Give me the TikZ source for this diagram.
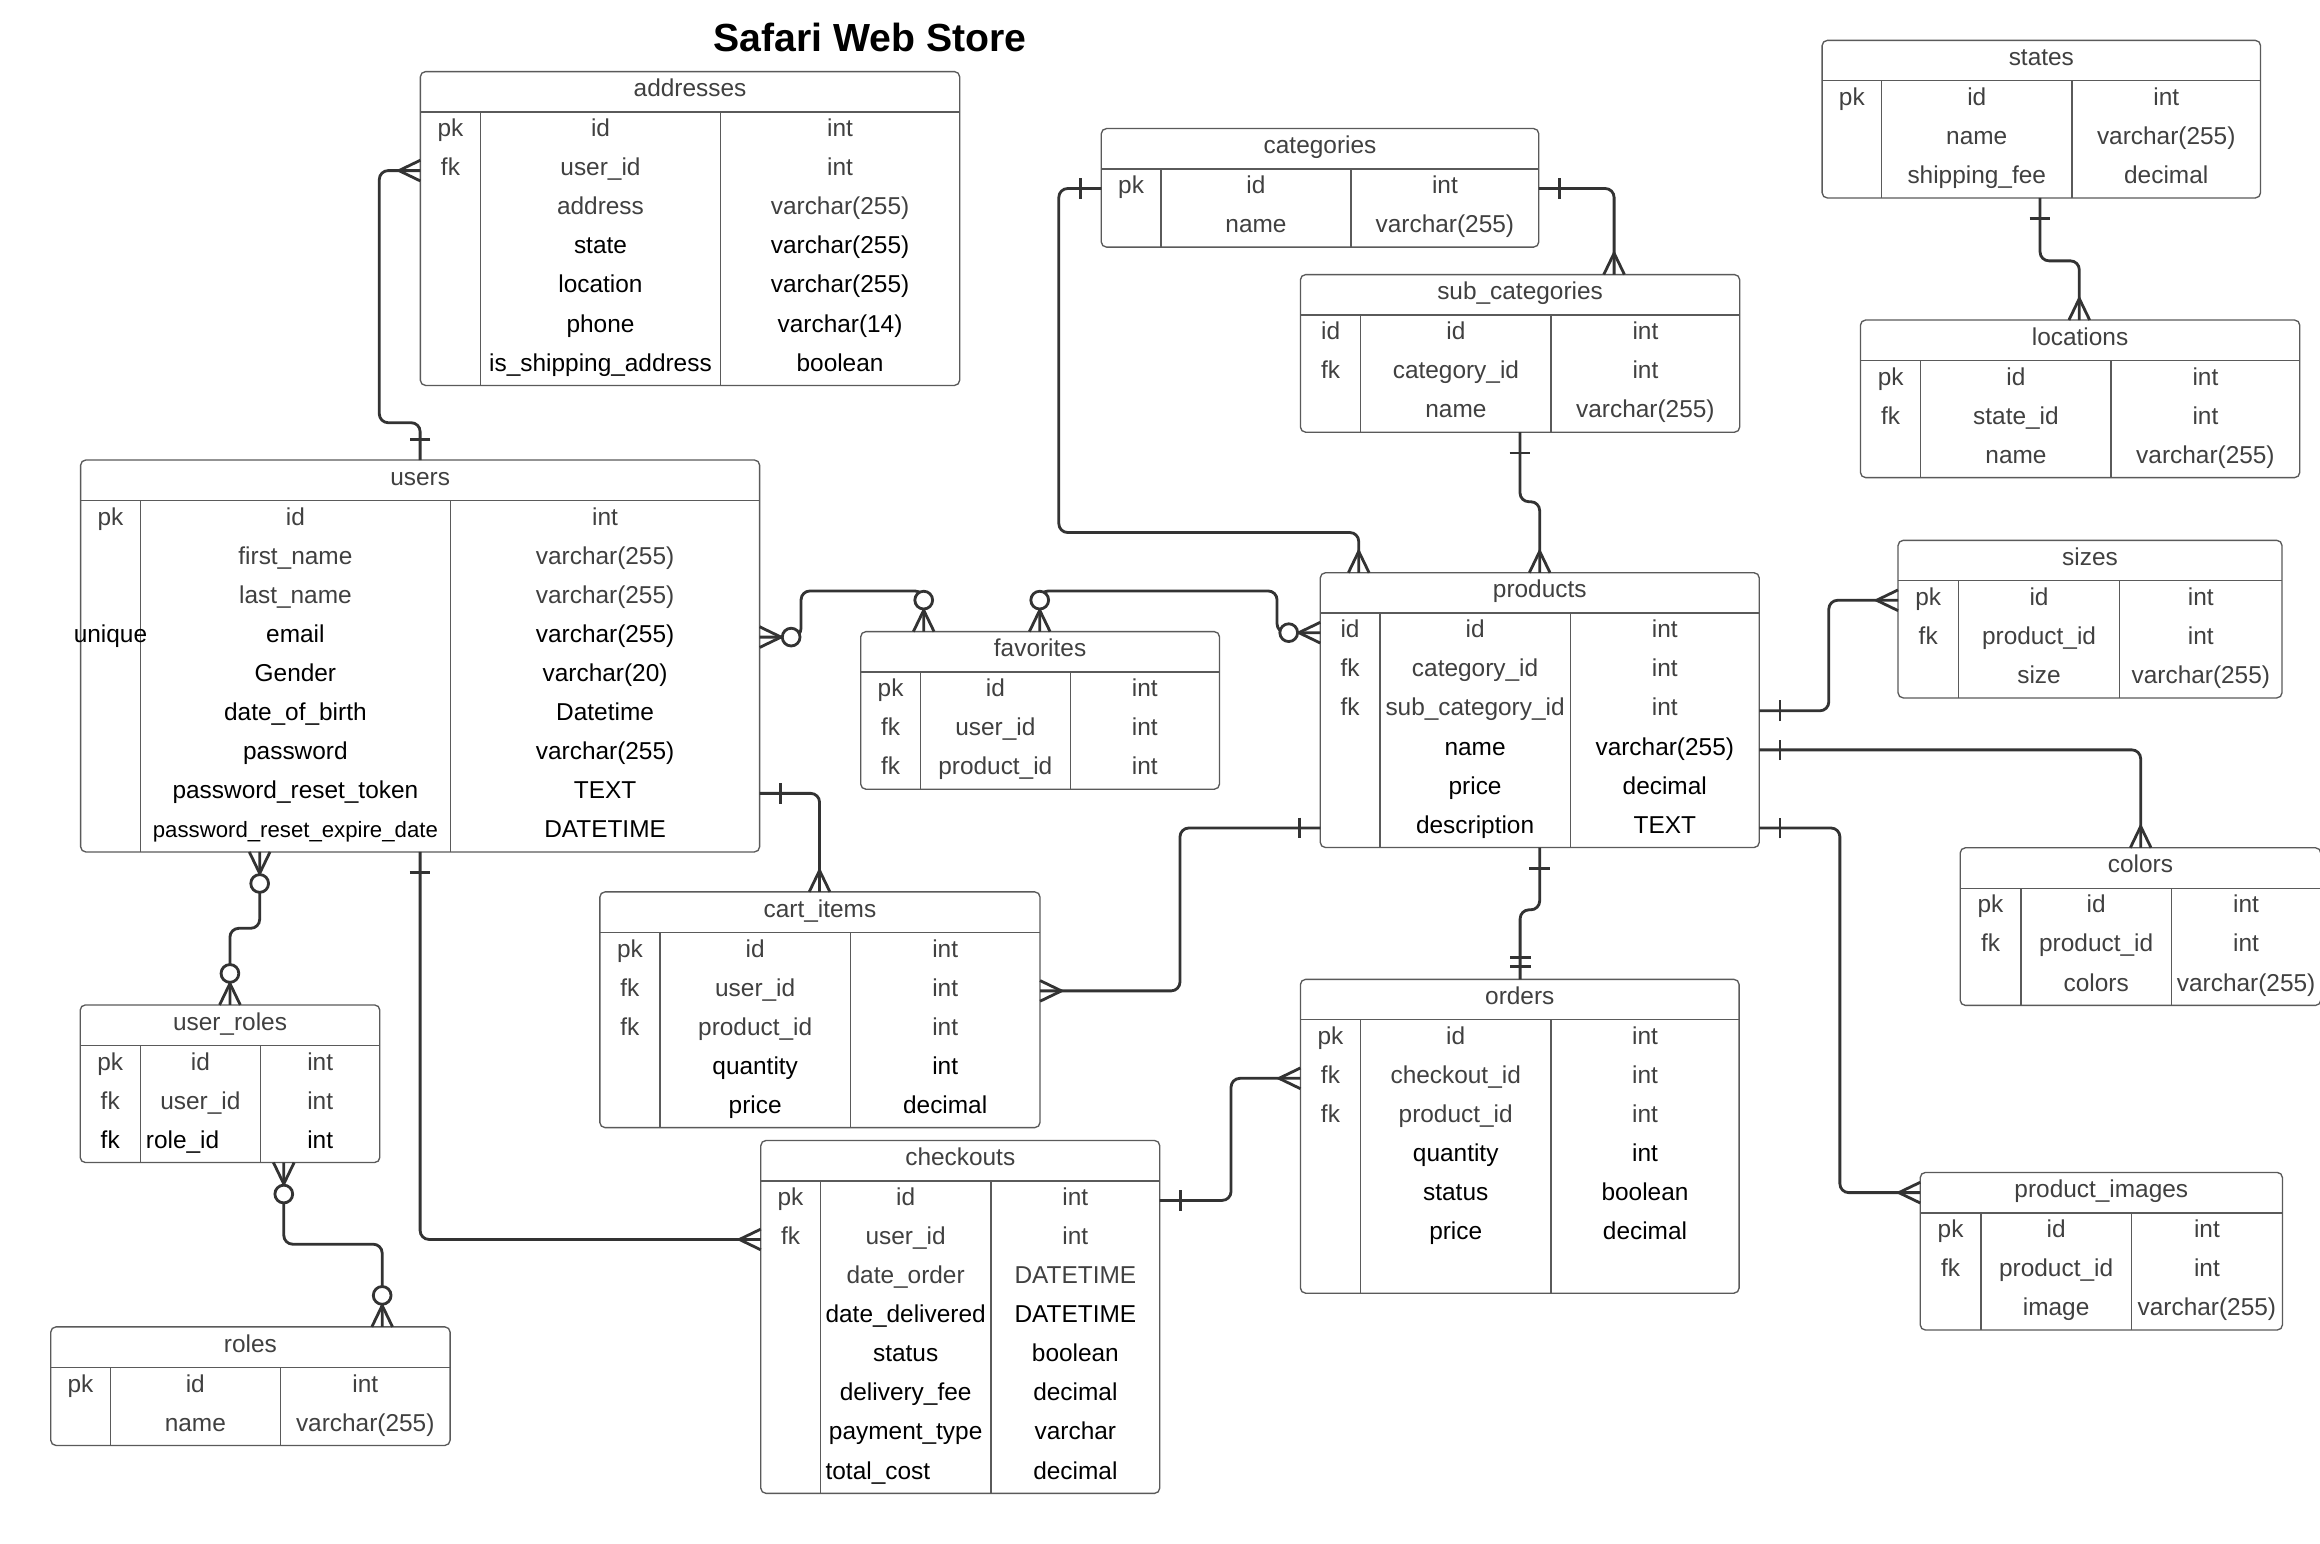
\documentclass[tikz,border=0pt]{standalone}
\usepackage{fontspec}
\setmainfont{Liberation Sans}
\usetikzlibrary{calc}
\definecolor{tgrey}{HTML}{404040}
\definecolor{lgrey}{HTML}{5A5A5A}
\definecolor{cgrey}{HTML}{333333}
\tikzset{
  tframe/.style={draw=lgrey, line width=0.9pt, rounded corners=3.5pt, fill=white, inner sep=0pt, outer sep=0pt},
  tline/.style={draw=lgrey, line width=0.9pt},
  cell/.style={inner sep=0pt, font=\fontsize{16.5}{19}\selectfont, anchor=base},
  tg/.style={text=tgrey},
  tb/.style={text=black},
  conn/.style={draw=cgrey, line width=1.9pt, rounded corners=6pt},
  mk/.style={draw=cgrey, line width=1.9pt},
  many/.pic={\draw[mk] (0,7) -- (14.5,0) -- (0,-7);},
  zmany/.pic={\draw[mk] (0,7) -- (14.5,0) -- (0,-7); \draw[mk, fill=white] (21.3,0) circle[radius=6pt];},
  one/.pic={\draw[mk] (14,7) -- (14,-7);},
  onlyone/.pic={\draw[mk] (8.5,7) -- (8.5,-7) (14.5,7) -- (14.5,-7);}
}
% #1 name, #2 x1, #3 top, #4 x2, #5 d1, #6 d2, #7 slots, #8 title, #9 rows
\newcommand{\ertable}[9]{%
  \pgfmathsetmacro\tHB{#3+27.3}%
  \pgfmathsetmacro\tBT{\tHB+#7*26.4}%
  \pgfmathsetmacro\tW{#4-#2}%
  \pgfmathsetmacro\tH{\tBT-#3}%
  \node[tframe, minimum width=\tW pt, minimum height=\tH pt, anchor=north west] (#1) at (#2,#3) {};
  \draw[tline] (#2,\tHB) -- (#4,\tHB) (#5,\tHB) -- (#5,\tBT) (#6,\tHB) -- (#6,\tBT);
  \node[cell,tg] (#1-title) at ({(#2+#4)/2},{#3+17}) {#8};
  \coordinate (#1-h) at (#2,{#3+13.65});
  \foreach \i in {1,...,#7}{\coordinate (#1-r\i) at (#2,{\tHB+(\i-0.5)*26.4});}
  \foreach \ka/\fa/\ta/\ca [count=\i] in {#9}{%
    \pgfmathsetmacro\yb{\tHB+(\i-0.5)*26.4+3.5}
    \node[cell,\ca] (#1-k\i) at ({(#2+#5)/2},\yb) {\ka};
    \node[cell,\ca] (#1-f\i) at ({(#5+#6)/2},\yb) {\fa};
    \node[cell,\ca] (#1-t\i) at ({(#6+#4)/2},\yb) {\ta};
  }
}
\begin{document}
\begin{tikzpicture}[x=1pt,y=-1pt]
\useasboundingbox (0,0) rectangle (1568,1043.5);
\fill[white] (0,0) rectangle (1568,1043.5);
\node[font=\bfseries\fontsize{26.5}{30}\selectfont, anchor=base, inner sep=0pt] (title) at (587.9,34.9) {Safari Web Store};

\ertable{addresses}{284.1}{48.4}{648.6}{324.8}{486.9}{7}{addresses}{pk/id/int/tg, fk/user\_id/int/tg, {}/address/varchar(255)/tg, {}/state/varchar(255)/tb, {}/location/varchar(255)/tb, {}/phone/varchar(14)/tb, {}/is\_shipping\_address/boolean/tb}
\ertable{users}{54.5}{310.9}{513.4}{94.8}{304.5}{9}{users}{pk/id/int/tg, {}/first\_name/varchar(255)/tg, {}/last\_name/varchar(255)/tg, unique/email/varchar(255)/tb, {}/Gender/varchar(20)/tb, {}/date\_of\_birth/Datetime/tb, {}/password/varchar(255)/tb, {}/password\_reset\_token/TEXT/tb, {}/{\fontsize{15}{18}\selectfont password\_reset\_expire\_date}/DATETIME/tb}
\ertable{ur}{54.2}{679.2}{256.7}{94.8}{176.1}{3}{user\_roles}{pk/id/int/tg, fk/user\_id/int/tg, fk/{}/int/tb}
\node[cell,tb,anchor=base west] (ur-role) at (98.4,776) {role\_id};
\ertable{roles}{34.3}{896.8}{304.2}{74.5}{189.5}{2}{roles}{pk/id/int/tg, {}/name/varchar(255)/tg}
\ertable{fav}{581.7}{426.9}{824.2}{622.1}{723.3}{3}{favorites}{pk/id/int/tg, fk/user\_id/int/tg, fk/product\_id/int/tg}
\ertable{cart}{405.4}{602.8}{702.9}{446.1}{574.7}{5}{cart\_items}{pk/id/int/tg, fk/user\_id/int/tg, fk/product\_id/int/tg, {}/quantity/int/tb, {}/price/decimal/tb}
\ertable{chk}{514.2}{770.8}{783.8}{554.4}{669.8}{8}{checkouts}{pk/id/int/tg, fk/user\_id/int/tg, {}/date\_order/DATETIME/tg, {}/date\_delivered/DATETIME/tb, {}/status/boolean/tb, {}/delivery\_fee/decimal/tb, {}/payment\_type/varchar/tb, {}/{}/decimal/tb}
\node[cell,tb,anchor=base west] (chk-total) at (557.8,999.6) {total\_cost};
\ertable{cat}{744.3}{86.9}{1040.0}{784.6}{913.1}{2}{categories}{pk/id/int/tg, {}/name/varchar(255)/tg}
\ertable{sub}{878.9}{185.6}{1175.8}{919.7}{1048.3}{3}{sub\_categories}{id/id/int/tg, fk/category\_id/int/tg, {}/name/varchar(255)/tg}
\ertable{prod}{892.3}{387.1}{1189.0}{932.6}{1061.3}{6}{products}{id/id/int/tg, fk/category\_id/int/tg, fk/sub\_category\_id/int/tg, {}/name/varchar(255)/tb, {}/price/decimal/tb, {}/description/TEXT/tb}
\ertable{ord}{878.9}{661.9}{1175.4}{919.5}{1048.2}{7}{orders}{pk/id/int/tg, fk/checkout\_id/int/tg, fk/product\_id/int/tg, {}/quantity/int/tb, {}/status/boolean/tb, {}/price/decimal/tb}
\ertable{states}{1231.5}{27.3}{1527.8}{1271.7}{1400.3}{3}{states}{pk/id/int/tg, {}/name/varchar(255)/tg, {}/shipping\_fee/decimal/tg}
\ertable{loc}{1257.4}{216.3}{1554.3}{1298.2}{1426.8}{3}{locations}{pk/id/int/tg, fk/state\_id/int/tg, {}/name/varchar(255)/tg}
\ertable{sizes}{1282.8}{365.2}{1542.3}{1323.6}{1432.6}{3}{sizes}{pk/id/int/tg, fk/product\_id/int/tg, {}/size/varchar(255)/tg}
\ertable{colors}{1324.8}{573.0}{1568.5}{1365.8}{1467.6}{3}{colors}{pk/id/int/tg, fk/product\_id/int/tg, {}/colors/varchar(255)/tg}
\ertable{pimg}{1297.8}{792.4}{1542.6}{1338.8}{1440.5}{3}{product\_images}{pk/id/int/tg, fk/product\_id/int/tg, {}/image/varchar(255)/tg}

% connector end points
\coordinate (c1a) at (users.north);
\coordinate (c1b) at (addresses.west |- addresses-r2);
\coordinate (c2a) at (users.east |- users-r4);
\coordinate (c2b) at ($(fav.north west)+(42.6,0)$);
\coordinate (c3a) at ($(fav.north west)+(121,0)$);
\coordinate (c3b) at (prod.west |- prod-r1);
\coordinate (c4a) at (users.east |- users-r8);
\coordinate (c4b) at ($(cart.north west)+(148.5,0)$);
\coordinate (c5a) at ($(users.south west)+(121,0)$);
\coordinate (c5b) at ($(ur.north west)+(101.2,0)$);
\coordinate (c6a) at ($(ur.south west)+(137.6,0)$);
\coordinate (c6b) at ($(roles.north west)+(224,0)$);
\coordinate (c7a) at (users.south);
\coordinate (c7b) at (chk.west |- chk-r2);
\coordinate (c8a) at (cart.east |- cart-r2);
\coordinate (c8b) at (prod.west |- prod-r6);
\coordinate (c9a) at (chk.east |- chk-r1);
\coordinate (c9b) at (ord.west |- ord-r2);
\coordinate (c10a) at ($(prod.south west)+(148.3,0)$);
\coordinate (c10b) at ($(ord.north west)+(148.5,0)$);
\coordinate (c11a) at (cat.west |- cat-r1);
\coordinate (c11b) at ($(prod.north west)+(26,0)$);
\coordinate (c12a) at (cat.east |- cat-r1);
\coordinate (c12b) at ($(sub.north west)+(212,0)$);
\coordinate (c13a) at ($(sub.south west)+(148.4,0)$);
\coordinate (c13b) at ($(prod.north west)+(148.3,0)$);
\coordinate (c14a) at ($(states.south west)+(147.3,0)$);
\coordinate (c14b) at ($(loc.north west)+(147.9,0)$);
\coordinate (c15a) at (prod.east |- prod-r3);
\coordinate (c15b) at (sizes.west |- sizes-r1);
\coordinate (c16a) at (prod.east |- prod-r4);
\coordinate (c16b) at ($(colors.north west)+(122,0)$);
\coordinate (c17a) at (prod.east |- prod-r6);
\coordinate (c17b) at (pimg.west |- pimg-h);

% connectors
\draw[conn] (c1a) |- ($(c1a)+(-27.6,-25.2)$) |- (c1b);
\draw[conn] (c2a) -| ($(c2a)+(28,-31.2)$) -| (c2b);
\draw[conn] (c3a) |- ($(c3b)+(-29.2,-28.2)$) |- (c3b);
\draw[conn] (c4a) -| (c4b);
\draw[conn] (c5a) |- ($(c5b)+(0,-51.8)$) -- (c5b);
\draw[conn] (c6a) |- ($(c6b)+(0,-55.9)$) -- (c6b);
\draw[conn] (c7a) |- (c7b);
\draw[conn] (c8a) -| ($(c8b)+(-94.8,0)$) -- (c8b);
\draw[conn] (c9a) -| ($(c9b)+(-46.9,0)$) -- (c9b);
\draw[conn] (c10a) |- ($(c10b)+(0,-47)$) -- (c10b);
\draw[conn] (c11a) -| ($(c11a)+(-28.7,232.5)$) -| (c11b);
\draw[conn] (c12a) -| (c12b);
\draw[conn] (c13a) |- ($(c13b)+(0,-48)$) -- (c13b);
\draw[conn] (c14a) |- ($(c14b)+(0,-40)$) -- (c14b);
\draw[conn] (c15a) -| ($(c15b)+(-46.8,0)$) -- (c15b);
\draw[conn] (c16a) -| (c16b);
\draw[conn] (c17a) -| ($(c17b)+(-54.3,0)$) -- (c17b);

% end markers
\pic[rotate=90] at (c1a) {one};
\pic[rotate=180] at (c1b) {many};
\pic at (c2a) {zmany};
\pic[rotate=90] at (c2b) {zmany};
\pic[rotate=90] at (c3a) {zmany};
\pic[rotate=180] at (c3b) {zmany};
\pic at (c4a) {one};
\pic[rotate=90] at (c4b) {many};
\pic[rotate=-90] at (c5a) {zmany};
\pic[rotate=90] at (c5b) {zmany};
\pic[rotate=-90] at (c6a) {zmany};
\pic[rotate=90] at (c6b) {zmany};
\pic[rotate=-90] at (c7a) {one};
\pic[rotate=180] at (c7b) {many};
\pic at (c8a) {many};
\pic[rotate=180] at (c8b) {one};
\pic at (c9a) {one};
\pic[rotate=180] at (c9b) {many};
\pic[rotate=-90] at (c10a) {one};
\pic[rotate=90] at (c10b) {onlyone};
\pic[rotate=180] at (c11a) {one};
\pic[rotate=90] at (c11b) {many};
\pic at (c12a) {one};
\pic[rotate=90] at (c12b) {many};
\pic[rotate=-90] at (c13a) {one};
\pic[rotate=90] at (c13b) {many};
\pic[rotate=-90] at (c14a) {one};
\pic[rotate=90] at (c14b) {many};
\pic at (c15a) {one};
\pic[rotate=180] at (c15b) {many};
\pic at (c16a) {one};
\pic[rotate=90] at (c16b) {many};
\pic at (c17a) {one};
\pic[rotate=180] at (c17b) {many};
\end{tikzpicture}
\end{document}
